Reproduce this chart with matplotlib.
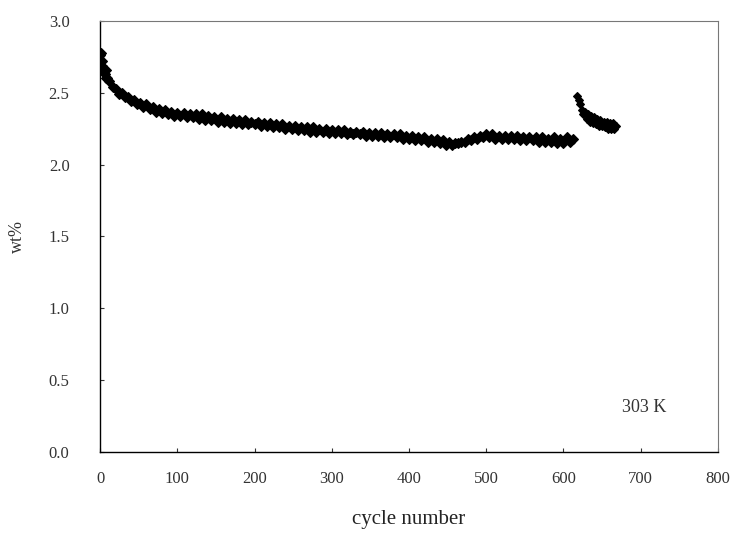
import numpy as np
import matplotlib.pyplot as plt

plt.rcParams['font.family'] = ['Liberation Serif', 'DejaVu Serif']

# early cycles (steep initial drop)
early_cycles = [1, 2, 3, 5, 6, 7, 9]
early_wt = [2.78, 2.72, 2.69, 2.66, 2.63, 2.66, 2.60]

# main run, every 4th cycle from 0
main_wt = [
    2.76, 2.65, 2.60, 2.58, 2.54, 2.53, 2.49, 2.50, 2.47, 2.47,
    2.44, 2.45, 2.42, 2.43, 2.40, 2.42, 2.39, 2.40, 2.37, 2.39,
    2.36, 2.38, 2.35, 2.37, 2.34, 2.36, 2.34, 2.36, 2.33, 2.35,
    2.33, 2.35, 2.32, 2.35, 2.31, 2.34, 2.31, 2.33, 2.30, 2.33,
    2.30, 2.32, 2.29, 2.32, 2.29, 2.31, 2.28, 2.31, 2.28, 2.30,
    2.28, 2.30, 2.27, 2.29, 2.27, 2.29, 2.26, 2.28, 2.26, 2.28,
    2.25, 2.27, 2.25, 2.27, 2.24, 2.26, 2.24, 2.26, 2.23, 2.26,
    2.23, 2.25, 2.23, 2.25, 2.22, 2.24, 2.22, 2.24, 2.22, 2.24,
    2.21, 2.23, 2.21, 2.23, 2.21, 2.23, 2.20, 2.22, 2.20, 2.22,
    2.20, 2.22, 2.19, 2.21, 2.19, 2.21, 2.19, 2.21, 2.18, 2.20,
    2.18, 2.20, 2.17, 2.19, 2.17, 2.19, 2.16, 2.18, 2.16, 2.18,
    2.15, 2.17, 2.14, 2.16, 2.14, 2.15, 2.15, 2.16, 2.16, 2.18,
    2.17, 2.19, 2.18, 2.20, 2.19, 2.21, 2.19, 2.21, 2.18, 2.20,
    2.18, 2.20, 2.18, 2.20, 2.18, 2.20, 2.17, 2.19, 2.17, 2.19,
    2.17, 2.19, 2.16, 2.19, 2.16, 2.18, 2.16, 2.19, 2.15, 2.18,
    2.15, 2.19, 2.16, 2.18,
]
main_cycles = np.arange(0, 4 * len(main_wt), 4)

# second run after restart, every 2nd cycle from 618
late_wt = [
    2.48, 2.45, 2.42, 2.38, 2.35, 2.37, 2.32, 2.35, 2.30, 2.34,
    2.29, 2.33, 2.28, 2.32, 2.27, 2.31, 2.27, 2.30, 2.26, 2.30,
    2.25, 2.29, 2.25, 2.29, 2.25, 2.27,
]
late_cycles = np.arange(618, 618 + 2 * len(late_wt), 2)

xticks = [0, 100, 200, 300, 400, 500, 600, 700, 800]
yticks = [0.0, 0.5, 1.0, 1.5, 2.0, 2.5, 3.0]

fig = plt.figure(figsize=(7.31, 5.41), dpi=100)
ax = fig.add_axes([0.137, 0.1645, 0.845, 0.7967])

style = dict(marker='D', markersize=5, color='black', linestyle='none',
             markeredgewidth=0.8)
ax.plot(early_cycles, early_wt, **style)
ax.plot(main_cycles, main_wt, **style)
ax.plot(late_cycles, late_wt, **dict(style, markersize=4))

ax.set_xlim(0, 800)
ax.set_ylim(0, 3.0)
ax.set_xticks(xticks)
ax.set_yticks(yticks)
ax.set_yticklabels([f"{v:.1f}" for v in yticks])
ax.tick_params(direction='in', length=3, labelsize=12, colors='#333333')
ax.tick_params(axis='x', pad=14)
ax.tick_params(axis='y', pad=22)

for side in ['top', 'right']:
    ax.spines[side].set_color('#777777')
    ax.spines[side].set_linewidth(0.8)
for side in ['left', 'bottom']:
    ax.spines[side].set_color('black')
    ax.spines[side].set_linewidth(1.0)

ax.set_xlabel("cycle number", fontsize=15, color='#222222', labelpad=16)
ax.set_ylabel("wt%", fontsize=13, color='#333333', labelpad=16)
ax.text(705, 0.31, "303 K", fontsize=13, color='#333333', ha='center', va='center')

fig.savefig("out.png", dpi=100)
